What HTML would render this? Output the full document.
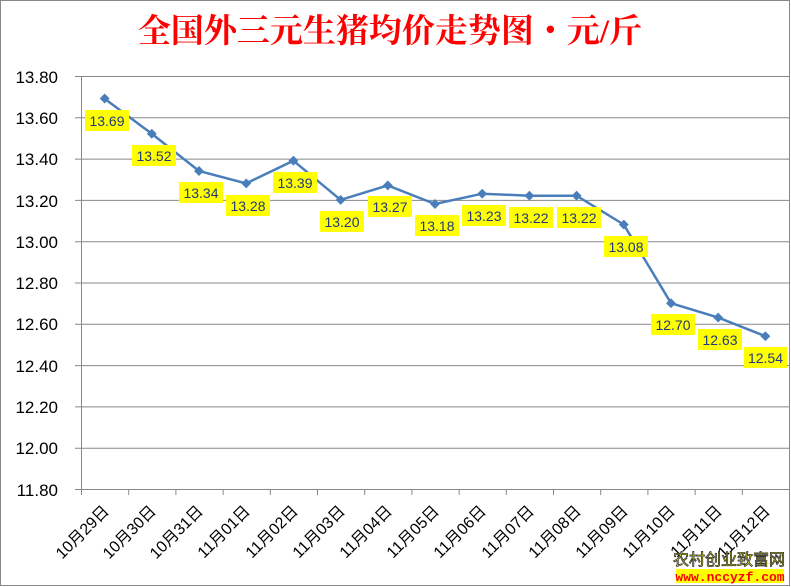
<!DOCTYPE html>
<html><head><meta charset="utf-8"><style>
body{margin:0;background:#fff}
svg{display:block}
</style></head><body>
<svg width="791" height="587" viewBox="0 0 791 587" xmlns="http://www.w3.org/2000/svg" font-family="Liberation Sans, Noto Sans CJK SC, sans-serif">
<rect x="0.5" y="0.5" width="789" height="585" fill="#fff" stroke="#888"/>
<text x="390" y="42" text-anchor="middle" font-family="Liberation Serif, Noto Serif CJK SC, serif" font-weight="bold" font-size="33" fill="#ff0000">全国外三元生猪均价走势图・元/斤</text>
<g stroke="#888" stroke-width="1">
<line x1="75" y1="76.5" x2="789" y2="76.5"/><line x1="75" y1="117.8" x2="789" y2="117.8"/><line x1="75" y1="159.1" x2="789" y2="159.1"/><line x1="75" y1="200.4" x2="789" y2="200.4"/><line x1="75" y1="241.7" x2="789" y2="241.7"/><line x1="75" y1="283" x2="789" y2="283"/><line x1="75" y1="324.3" x2="789" y2="324.3"/><line x1="75" y1="365.6" x2="789" y2="365.6"/><line x1="75" y1="406.9" x2="789" y2="406.9"/><line x1="75" y1="448.2" x2="789" y2="448.2"/><line x1="75" y1="489.5" x2="789" y2="489.5"/>
<line x1="81.5" y1="76" x2="81.5" y2="490"/>
<line x1="81.5" y1="490" x2="81.5" y2="495"/><line x1="128.7" y1="490" x2="128.7" y2="495"/><line x1="175.9" y1="490" x2="175.9" y2="495"/><line x1="223.1" y1="490" x2="223.1" y2="495"/><line x1="270.3" y1="490" x2="270.3" y2="495"/><line x1="317.5" y1="490" x2="317.5" y2="495"/><line x1="364.7" y1="490" x2="364.7" y2="495"/><line x1="411.9" y1="490" x2="411.9" y2="495"/><line x1="459.1" y1="490" x2="459.1" y2="495"/><line x1="506.3" y1="490" x2="506.3" y2="495"/><line x1="553.5" y1="490" x2="553.5" y2="495"/><line x1="600.7" y1="490" x2="600.7" y2="495"/><line x1="647.9" y1="490" x2="647.9" y2="495"/><line x1="695.1" y1="490" x2="695.1" y2="495"/><line x1="742.3" y1="490" x2="742.3" y2="495"/>
</g>
<g font-size="17" fill="#000" text-anchor="end">
<text x="58" y="83">13.80</text><text x="58" y="124">13.60</text><text x="58" y="165">13.40</text><text x="58" y="207">13.20</text><text x="58" y="248">13.00</text><text x="58" y="289">12.80</text><text x="58" y="330">12.60</text><text x="58" y="372">12.40</text><text x="58" y="413">12.20</text><text x="58" y="454">12.00</text><text x="58" y="496">11.80</text>
</g>
<polyline fill="none" stroke="#4a7ebb" stroke-width="2.5" points="104.6,98.7 151.8,133.8 199,171 246.2,183.4 293.4,160.7 340.6,199.9 387.8,185.4 435,204 482.2,193.7 529.4,195.7 576.6,195.7 623.8,224.6 671,303.2 718.2,317.6 765.4,336.2"/>
<g fill="#4a7ebb">
<rect x="101" y="95" width="7" height="7" transform="rotate(45 104.6 98.7)"/><rect x="148.3" y="130.3" width="7" height="7" transform="rotate(45 151.8 133.8)"/><rect x="195.5" y="167.5" width="7" height="7" transform="rotate(45 199 171)"/><rect x="242.7" y="179.9" width="7" height="7" transform="rotate(45 246.2 183.4)"/><rect x="289.9" y="157.2" width="7" height="7" transform="rotate(45 293.4 160.7)"/><rect x="337.1" y="196.4" width="7" height="7" transform="rotate(45 340.6 199.9)"/><rect x="384.3" y="181.9" width="7" height="7" transform="rotate(45 387.8 185.4)"/><rect x="431.5" y="200.5" width="7" height="7" transform="rotate(45 435 204)"/><rect x="478.7" y="190.2" width="7" height="7" transform="rotate(45 482.2 193.7)"/><rect x="525.9" y="192.2" width="7" height="7" transform="rotate(45 529.4 195.7)"/><rect x="573.1" y="192.2" width="7" height="7" transform="rotate(45 576.6 195.7)"/><rect x="620.3" y="221.1" width="7" height="7" transform="rotate(45 623.8 224.6)"/><rect x="667.5" y="299.7" width="7" height="7" transform="rotate(45 671 303.2)"/><rect x="714.7" y="314.1" width="7" height="7" transform="rotate(45 718.2 317.6)"/><rect x="761.9" y="332.7" width="7" height="7" transform="rotate(45 765.4 336.2)"/>
</g>
<g fill="#ffff00">
<rect x="85" y="110" width="44" height="21"/><rect x="132" y="145" width="44" height="21"/><rect x="179" y="182" width="44" height="21"/><rect x="226" y="195" width="44" height="21"/><rect x="273" y="172" width="44" height="21"/><rect x="320" y="211" width="44" height="21"/><rect x="368" y="196" width="44" height="21"/><rect x="415" y="215" width="44" height="21"/><rect x="462" y="205" width="44" height="21"/><rect x="509" y="207" width="44" height="21"/><rect x="557" y="207" width="44" height="21"/><rect x="604" y="236" width="44" height="21"/><rect x="651" y="314" width="44" height="21"/><rect x="698" y="329" width="44" height="21"/><rect x="744" y="347" width="43" height="21"/>
</g>
<g font-size="14" fill="#1f3a7a" text-anchor="middle">
<text x="107" y="126">13.69</text><text x="154" y="161">13.52</text><text x="201" y="198">13.34</text><text x="248" y="211">13.28</text><text x="295" y="188">13.39</text><text x="342" y="227">13.20</text><text x="390" y="212">13.27</text><text x="437" y="231">13.18</text><text x="484" y="221">13.23</text><text x="531" y="223">13.22</text><text x="579" y="223">13.22</text><text x="626" y="252">13.08</text><text x="673" y="330">12.70</text><text x="720" y="345">12.63</text><text x="765.5" y="363">12.54</text>
</g>
<g font-size="16" fill="#000" text-anchor="end">
<text transform="translate(110,512) rotate(-45)">10月29日</text><text transform="translate(157,512) rotate(-45)">10月30日</text><text transform="translate(204,512) rotate(-45)">10月31日</text><text transform="translate(251,512) rotate(-45)">11月01日</text><text transform="translate(299,512) rotate(-45)">11月02日</text><text transform="translate(346,512) rotate(-45)">11月03日</text><text transform="translate(393,512) rotate(-45)">11月04日</text><text transform="translate(440,512) rotate(-45)">11月05日</text><text transform="translate(487,512) rotate(-45)">11月06日</text><text transform="translate(535,512) rotate(-45)">11月07日</text><text transform="translate(582,512) rotate(-45)">11月08日</text><text transform="translate(629,512) rotate(-45)">11月09日</text><text transform="translate(676,512) rotate(-45)">11月10日</text><text transform="translate(723,512) rotate(-45)">11月11日</text><text transform="translate(771,512) rotate(-45)">11月12日</text>
</g>
<text x="729" y="565" text-anchor="middle" font-size="16" fill="#ffff00" stroke="#333" stroke-width="0.8" font-family="Liberation Sans, Noto Sans CJK SC, sans-serif">农村创业致富网</text>
<rect x="676" y="569" width="108" height="14" fill="#ffff00"/>
<text x="730" y="581" text-anchor="middle" font-size="13" font-weight="bold" fill="#ff0000" font-family="Liberation Mono, monospace">www.nccyzf.com</text>
</svg>
</body></html>
